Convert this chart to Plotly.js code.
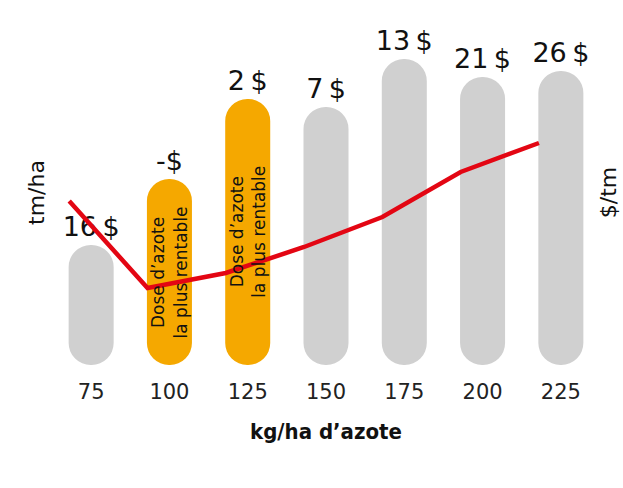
<!DOCTYPE html>
<html>
<head>
<meta charset="utf-8">
<script src="https://cdn.plot.ly/plotly-3.0.1.min.js"></script>
<style>html,body{margin:0;padding:0;background:#fff;}#chart{width:623px;height:488px;}</style>
</head>
<body>
<div id="chart"></div>
<script>
// Data
var doses = ['75', '100', '125', '150', '175', '200', '225'];
var barHeights = [120, 186, 266, 258, 306, 288, 294];      // tm/ha (relative units)
var profitLabels = ['16\u2009$', '-$', '2\u2009$', '7\u2009$', '13\u2009$', '21\u2009$', '26\u2009$'];
var mostProfitable = [false, true, true, false, false, false, false];
var linePrice = [164, 77, 92, 118, 148, 193, 222];          // $/tm (relative units)

var GRAY = '#d0d0d0', ORANGE = '#f5a800', RED = '#e30613';
var colors = mostProfitable.map(function (m) { return m ? ORANGE : GRAY; });

var bars = {
  type: 'bar', x: doses, y: barHeights, base: 0,
  width: 0.575,
  marker: { color: colors, cornerradius: '50%', line: { width: 0 } },
  text: profitLabels, textposition: 'outside', constraintext: 'none', cliponaxis: false,
  textfont: { family: 'DejaVu Sans', size: 27, color: '#111' },
  hoverinfo: 'skip', showlegend: false
};
var line = {
  type: 'scatter', mode: 'lines', x: doses, y: linePrice,
  xaxis: 'x2', yaxis: 'y2',
  line: { color: RED, width: 4.5 },
  hoverinfo: 'skip', showlegend: false
};

var annotations = [];
mostProfitable.forEach(function (m, i) {
  if (m) {
    annotations.push({
      x: i, y: barHeights[i] / 2, xref: 'x', yref: 'y',
      text: 'Dose d’azote<br>la plus rentable', showarrow: false, textangle: -90,
      font: { family: 'DejaVu Sans', size: 17, color: '#111' }
    });
  }
});

var shift = 0.28;
var layout = {
  width: 623, height: 488,
  margin: { l: 52, r: 23, t: 20, b: 123 },
  paper_bgcolor: '#fff', plot_bgcolor: '#fff',
  barmode: 'overlay',
  xaxis: {
    type: 'category', categoryarray: doses, range: [-0.5, 6.5],
    showgrid: false, zeroline: false, showline: false, ticks: '',
    tickfont: { family: 'DejaVu Sans', size: 21, color: '#222' },
    ticklabelstandoff: 12,
    title: { text: 'kg/ha d’azote', standoff: 20,
      font: { family: 'DejaVu Sans Condensed, DejaVu Sans', size: 22, color: '#111', weight: 'bold' } }
  },
  xaxis2: {
    type: 'category', categoryarray: doses, overlaying: 'x',
    range: [-0.5 + shift, 6.5 + shift], visible: false
  },
  yaxis: {
    range: [0, 345], showgrid: false, zeroline: false, showline: false,
    showticklabels: false, ticks: '',
    title: { text: 'tm/ha', standoff: 0, font: { family: 'DejaVu Sans', size: 22, color: '#111' } }
  },
  yaxis2: {
    range: [0, 345], overlaying: 'y', side: 'right', showgrid: false, zeroline: false,
    showline: false, showticklabels: false, ticks: '',
    title: { text: '$/tm', standoff: 0, font: { family: 'DejaVu Sans', size: 22, color: '#111' } }
  },
  annotations: annotations
};

Plotly.newPlot('chart', [bars, line], layout, { displayModeBar: false, staticPlot: true });
</script>
</body>
</html>
